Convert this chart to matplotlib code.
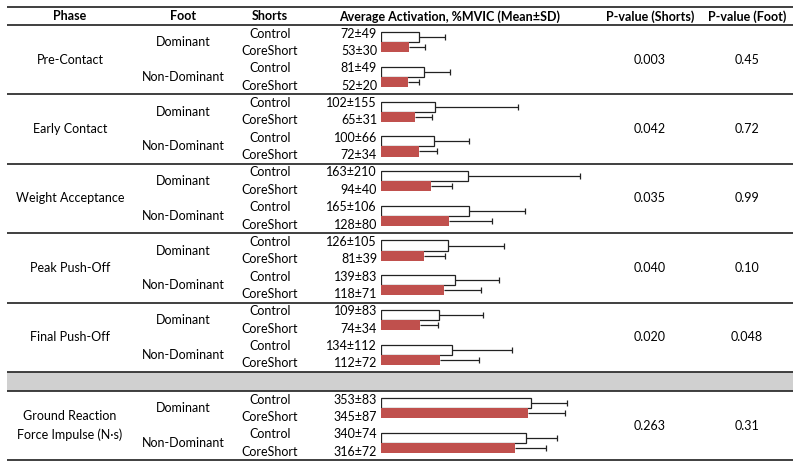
import matplotlib
matplotlib.use("Agg")
import matplotlib.pyplot as plt
import numpy as np

plt.rcParams['font.family'] = ['Lato', 'DejaVu Sans']

phases = ["Pre-Contact", "Early Contact", "Weight Acceptance", "Peak Push-Off", "Final Push-Off"]
feet = ["Dominant", "Non-Dominant"]
shorts = ["Control", "CoreShort"]

# activation (%MVIC): per phase, [Dominant, Non-Dominant]
control_mean = [[72, 81], [102, 100], [163, 165], [126, 139], [109, 134]]
control_sd = [[49, 49], [155, 66], [210, 106], [105, 83], [83, 112]]
core_mean = [[53, 52], [65, 72], [94, 128], [81, 118], [74, 112]]
core_sd = [[30, 20], [31, 34], [40, 80], [39, 71], [34, 72]]
p_shorts = ["0.003", "0.042", "0.035", "0.040", "0.020"]
p_foot = ["0.45", "0.72", "0.99", "0.10", "0.048"]

# ground reaction force impulse (N·s)
grf_phase = "Ground Reaction\nForce Impulse (N·s)"
grf_control_mean = [353, 340]
grf_control_sd = [83, 74]
grf_core_mean = [345, 316]
grf_core_sd = [87, 72]
grf_p_shorts = "0.263"
grf_p_foot = "0.31"

headers = ["Phase", "Foot", "Shorts", "Average Activation, %MVIC (Mean±SD)", "P-value (Shorts)", "P-value (Foot)"]

W, H = 800, 468
fig = plt.figure(figsize=(8, 4.68), dpi=100)
ax = fig.add_axes([0, 0, 1, 1])
ax.set_xlim(0, W)
ax.set_ylim(H, 0)
ax.axis('off')

FS = 9
LC = '#303030'
RED = '#C0504D'
x_left, x_right = 7, 793
x_phase, x_foot, x_shorts, x_val = 70, 183, 270, 377
x_ps, x_pf = 650, 747
bar_x0 = 380.5

top_y = 7
head_y = 25
row_h = 17.35
block_h = 4 * row_h
gray_top = head_y + 5 * block_h
gray_bot = 391
bottom_y = gray_bot + block_h

# header
hx = [x_phase, x_foot, x_shorts, 450, x_ps, x_pf]
for x, t in zip(hx, headers):
    ax.text(x, (top_y + head_y) / 2 + 0.5, t, ha='center', va='center', fontsize=FS, fontweight='bold')

ax.hlines([top_y, head_y], x_left, x_right, color=LC, lw=1.3)
for b in range(1, 5):
    ax.hlines(head_y + b * block_h, x_left, x_right, color=LC, lw=1.3)
ax.add_patch(plt.Rectangle((x_left, gray_top), x_right - x_left, gray_bot - gray_top,
                           facecolor='#D0D0D0', edgecolor='none'))
ax.hlines([gray_top, gray_bot, bottom_y], x_left, x_right, color=LC, lw=1.3)


def draw_block(top, phase, cm, cs, km, ks, ps, pf):
    yc = top + block_h / 2
    ax.text(x_phase, yc, phase, ha='center', va='center', fontsize=FS, linespacing=1.6)
    ax.text(x_ps, yc, ps, ha='center', va='center', fontsize=FS)
    ax.text(x_pf, yc, pf, ha='center', va='center', fontsize=FS)
    for f in range(2):
        pair_y = top + (2 * f + 1) * row_h
        ax.text(x_foot, pair_y, feet[f], ha='center', va='center', fontsize=FS)
        vals = [(cm[f], cs[f]), (km[f], ks[f])]
        for s in range(2):
            ry = top + (2 * f + s + 0.5) * row_h
            ax.text(x_shorts, ry, shorts[s], ha='center', va='center', fontsize=FS)
            ax.text(x_val, ry, f"{vals[s][0]}±{vals[s][1]}", ha='right', va='center', fontsize=FS)


for i, ph in enumerate(phases):
    draw_block(head_y + i * block_h, ph,
               [control_mean[i][0], control_mean[i][1]], [control_sd[i][0], control_sd[i][1]],
               [core_mean[i][0], core_mean[i][1]], [core_sd[i][0], core_sd[i][1]],
               p_shorts[i], p_foot[i])
draw_block(gray_bot, grf_phase, grf_control_mean, grf_control_sd, grf_core_mean, grf_core_sd,
           grf_p_shorts, grf_p_foot)


def bar_axes(y_top, n_rows, px_per_unit):
    y_bot = y_top + n_rows * row_h
    bx = fig.add_axes([bar_x0 / W, 1 - y_bot / H, (x_right - bar_x0) / W, (y_bot - y_top) / H])
    bx.set_xlim(0, (x_right - bar_x0) / px_per_unit)
    bx.set_ylim(n_rows, 0)
    bx.axis('off')
    bx.patch.set_alpha(0)
    return bx


bh = 0.58


def draw_bars(bx, pair_centers, cm, cs, km, ks):
    pc = np.array(pair_centers, dtype=float)
    yc = pc - bh / 2
    yk = pc + bh / 2
    bx.barh(yc, cm, height=bh, left=0, color='white', edgecolor='#222222', lw=0.9, zorder=3)
    bx.barh(yk, km, height=bh, left=0, color=RED, edgecolor='none', zorder=3)
    for y, m, s in list(zip(yc, cm, cs)) + list(zip(yk, km, ks)):
        bx.hlines(y, m, m + s, color='#222222', lw=0.9, zorder=2)
        bx.plot([m + s], [y], marker='|', ms=5, mew=0.9, color='#222222', zorder=2)


ax_act = bar_axes(head_y, 20, 0.534)
pcs, cms, css, kms, kss = [], [], [], [], []
for i in range(5):
    for f in range(2):
        pcs.append(i * 4 + 2 * f + 1)
        cms.append(control_mean[i][f]); css.append(control_sd[i][f])
        kms.append(core_mean[i][f]); kss.append(core_sd[i][f])
draw_bars(ax_act, pcs, cms, css, kms, kss)

ax_grf = bar_axes(gray_bot, 4, 0.427)
draw_bars(ax_grf, [1, 3], grf_control_mean, grf_control_sd, grf_core_mean, grf_core_sd)

fig.savefig("out.png", dpi=100)
